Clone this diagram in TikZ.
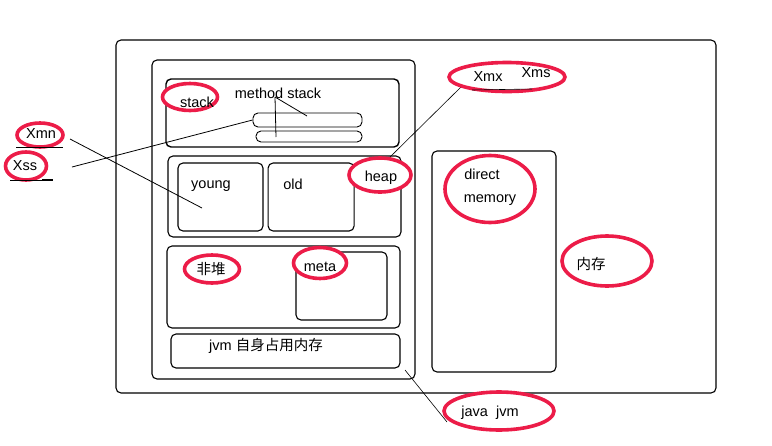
\documentclass[tikz,border=0pt]{standalone}
\usepackage{fontspec}
\setmainfont{Liberation Sans}
\newfontfamily\cjk{Noto Sans CJK SC}
\usetikzlibrary{shapes.geometric, positioning}
\definecolor{markred}{RGB}{236,28,72}

\begin{document}
\begin{tikzpicture}[x=1pt, y=-1pt]
% Styles for frames, rings and texts
\tikzstyle{frame_box} = [rectangle, rounded corners=5pt, draw=black, line width=1.1pt, inner sep=0pt]
\tikzstyle{bar_box} = [rectangle, rounded corners=5pt, draw=black, line width=0.9pt, inner sep=0pt]
\tikzstyle{ring} = [ellipse, draw=markred, line width=3.6pt, fill=white, inner sep=0pt]
\tikzstyle{label_text} = [inner sep=0pt, font=\fontsize{14.5}{16}\selectfont]
\tikzstyle{thin_line} = [line width=0.8pt]

\useasboundingbox (0,0) rectangle (772,445);

% Memory frames
\node (outer) [frame_box, minimum width=600pt, minimum height=353pt] at (416,216.5) {};
\node (jvm) [frame_box, minimum width=263pt, minimum height=319pt] at (283.5,219.5) {};
\node (mstack) [frame_box, line width=1.4pt, minimum width=233pt, minimum height=68pt] at (282.5,113) {};
\node (bar1) [bar_box, minimum width=109pt, minimum height=14pt] at (307.5,120) {};
\node (bar2) [bar_box, minimum width=106pt, minimum height=11pt] at (309,136.5) {};
\node (heap) [frame_box, minimum width=233pt, minimum height=81pt] at (284.5,196.5) {};
\node (young) [frame_box, minimum width=85pt, minimum height=68pt] at (220.5,197) {};
\node (old) [frame_box, minimum width=86pt, minimum height=68pt, right=4pt of young] {};
\node (nonheap) [frame_box, minimum width=233pt, minimum height=82pt] at (283.5,287) {};
\node (meta) [frame_box, minimum width=91pt, minimum height=68pt] at (341.5,286) {};
\node (self) [frame_box, minimum width=229pt, minimum height=34pt] at (285.5,351) {};
\node (direct) [frame_box, minimum width=124pt, minimum height=221pt] at (494,261.5) {};

% Pointer lines
\coordinate (xss_tail) at (72,167);
\coordinate (xmn_tail) at (70,139);
\coordinate (young_pt) at (202,208);
\coordinate (ms_root) at (275,97);
\coordinate (bar1_pt) at (307,116);
\coordinate (bar2_pt) at (276,137);
\coordinate (xmx_tail) at (461,87);
\coordinate (heap_pt) at (388,159);
\coordinate (jvm_pt) at (405,370);
\coordinate (javajvm_pt) at (447,422);
\draw [thin_line] (xss_tail) -- (bar1.west);
\draw [thin_line] (xmn_tail) -- (young_pt);
\draw [thin_line] (ms_root) -- (bar1_pt);
\draw [thin_line] (ms_root) -- (bar2_pt);
\draw [line width=0.6pt] (xmx_tail) -- (heap_pt);
\draw [line width=0.6pt] (jvm_pt) -- (javajvm_pt);

% Red rings
\node (stack_ring) [ring, minimum width=55pt, minimum height=27pt] at (190,97) {};
\node (xmn_ring) [ring, minimum width=46pt, minimum height=24pt] at (40,135) {};
\node (xss_ring) [ring, minimum width=41pt, minimum height=28pt] at (26,166) {};
\node (xmx_ring) [ring, minimum width=116pt, minimum height=29pt] at (507,77) {};
\node (heap_ring) [ring, minimum width=62pt, minimum height=34pt] at (380,175) {};
\node (direct_ring) [ring, minimum width=90pt, minimum height=67pt] at (490,189) {};
\node (mem_ring) [ring, minimum width=90pt, minimum height=50pt] at (607,261) {};
\node (nonheap_ring) [ring, minimum width=55pt, minimum height=28pt] at (212,269) {};
\node (meta_ring) [ring, minimum width=53pt, minimum height=31pt] at (320,263) {};
\node (javajvm_ring) [ring, minimum width=110pt, minimum height=38pt] at (499,411) {};

% Texts
\node (ms_txt) [label_text] at (278,93) {method stack};
\node (stack_txt) [label_text] at (197,102) {stack};
\node (young_txt) [label_text] at (211,186) {young};
\node (old_txt) [label_text] at (293,184) {old};
\node (heap_txt) [label_text] at (381,178) {heap};
\node (nonheap_txt) [label_text] at (211,269) {\cjk 非堆};
\node (meta_txt) [label_text] at (320,267) {meta};
\node (self_txt) [label_text] at (266,346) {jvm {\cjk 自身占用内存}};
\node (direct_txt) [label_text] at (482,174) {direct};
\node (memory_txt) [label_text] at (490,200) {memory};
\node (mem_txt) [label_text] at (591,264) {\cjk 内存};
\node (javajvm_txt) [label_text] at (490,413) {java\ \ jvm};
\node (xmx_txt) [label_text] at (488,77) {Xmx};
\node (xms_txt) [label_text] at (536,73) {Xms};
\node (xmn_txt) [label_text] at (41,134) {Xmn};
\node (xss_txt) [label_text] at (25,166) {Xss};

% Underlines
\coordinate (xmn_ul_a) at (16,147);
\coordinate (xmn_ul_b) at (63,147);
\coordinate (xss_ul_a) at (10,180);
\coordinate (xss_ul_m) at (42,180);
\coordinate (xss_ul_b) at (53,180);
\coordinate (xmx_ul_a) at (472,90);
\coordinate (xmx_ul_b) at (532,89);
\draw [thin_line] (xmn_ul_a) -- (xmn_ul_b);
\draw [thin_line] (xss_ul_a) -- (xss_ul_m);
\draw [line width=1.8pt] (xss_ul_m) -- (xss_ul_b);
\draw [line width=0.6pt] (xmx_ul_a) -- (xmx_ul_b);
\end{tikzpicture}
\end{document}
